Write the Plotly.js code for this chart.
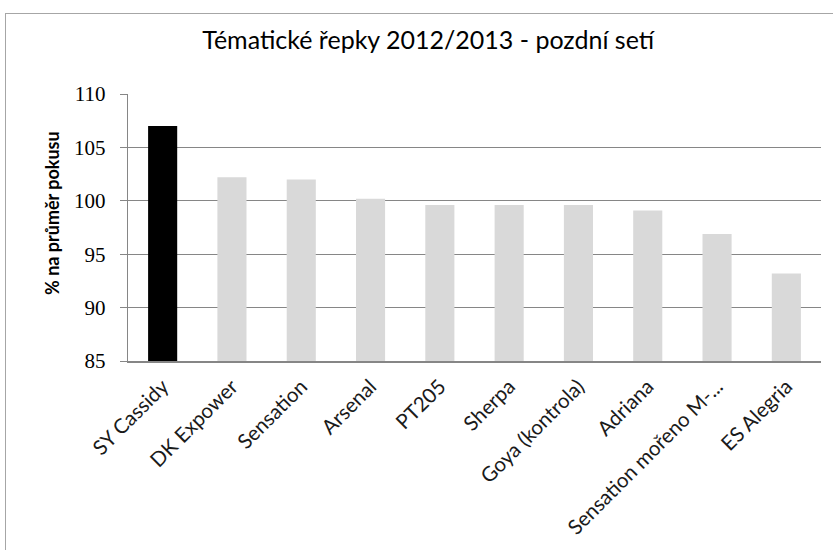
<!DOCTYPE html>
<html><head><meta charset="utf-8">
<script src="https://cdn.plot.ly/plotly-3.0.1.min.js"></script>
<style>
body{margin:0;background:#fff;}
#frame{position:absolute;left:5px;top:13px;width:840px;height:550px;border-left:1.5px solid #a6a6a6;border-top:1.5px solid #a6a6a6;}
#chart{position:absolute;left:0;top:0;width:833px;height:550px;}
</style></head>
<body>
<div id="frame"></div>
<div id="chart"></div>
<script>
const categories = ["SY Cassidy","DK Expower","Sensation","Arsenal","PT205","Sherpa","Goya (kontrola)","Adriana","Sensation mořeno M-...","ES Alegria"];
const values = [107.0, 102.2, 102.0, 100.2, 99.6, 99.6, 99.6, 99.1, 96.9, 93.2];
const barColors = ["#000000","#d9d9d9","#d9d9d9","#d9d9d9","#d9d9d9","#d9d9d9","#d9d9d9","#d9d9d9","#d9d9d9","#d9d9d9"];
const yTicks = [85, 90, 95, 100, 105, 110];

const font = "Lato, 'Open Sans', sans-serif";
Plotly.newPlot("chart", [{
  type: "bar",
  x: categories,
  y: values,
  marker: {color: barColors},
  hoverinfo: "x+y"
}], {
  width: 833, height: 550,
  paper_bgcolor: "rgba(0,0,0,0)",
  plot_bgcolor: "rgba(0,0,0,0)",
  margin: {l: 128, r: 12, t: 94, b: 189},
  bargap: 0.58,
  showlegend: false,
  title: {text: "Tématické řepky 2012/2013 - pozdní setí", x: 0.514, xanchor: "center", y: 0.927, yanchor: "middle",
          font: {family: font, size: 25, color: "#000"}},
  xaxis: {
    type: "category",
    tickangle: -45,
    tickfont: {family: font, size: 20.5, color: "#1a1a1a"},
    ticklabelstandoff: 4,
    showline: true, linecolor: "#868686", linewidth: 1.5,
    ticks: "", showgrid: false
  },
  yaxis: {
    range: [85, 110],
    tickvals: yTicks,
    ticktext: yTicks.map(String),
    tickfont: {family: "'Liberation Serif', 'DejaVu Serif', serif", size: 21, color: "#000"},
    ticklabelstandoff: 10,
    showgrid: true, gridcolor: "#868686", gridwidth: 1.2,
    showline: true, linecolor: "#868686", linewidth: 1.2,
    ticks: "outside", ticklen: 7, tickcolor: "#868686",
    zeroline: false
  },
  annotations: [{
    text: "<b>% na průměr pokusu</b>",
    xref: "paper", yref: "paper",
    x: (52 - 128) / 693, y: (361 - 213) / 267,
    xanchor: "center", yanchor: "middle",
    textangle: -90, showarrow: false,
    font: {family: font, size: 18, color: "#000"}
  }]
}, {displayModeBar: false, staticPlot: true});
</script>
</body></html>
